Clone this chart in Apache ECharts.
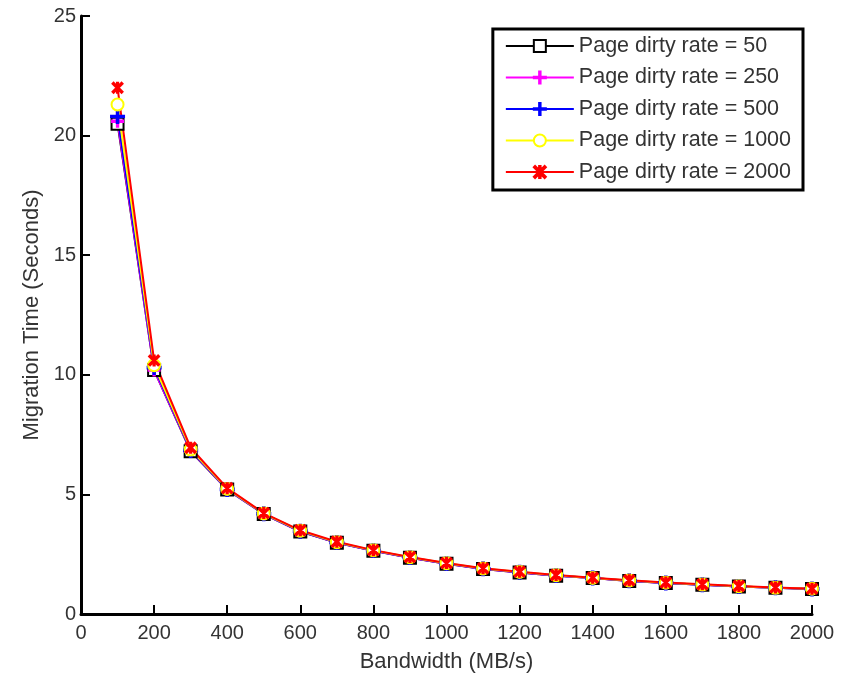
<!DOCTYPE html>
<html>
<head>
<meta charset="utf-8">
<script src="https://cdn.jsdelivr.net/npm/echarts@6/dist/echarts.min.js"></script>
<style>
  html, body { margin: 0; padding: 0; background: #fff; }
  #main { width: 844px; height: 678px; }
</style>
</head>
<body>
<div id="main"></div>
<script>
// bandwidth (MB/s) on the x axis
var bandwidth = [100, 200, 300, 400, 500, 600, 700, 800, 900, 1000,
                 1100, 1200, 1300, 1400, 1500, 1600, 1700, 1800, 1900, 2000];

// migration time (seconds) for each page dirty rate
var rate50   = [20.5, 10.2, 6.8, 5.2, 4.18, 3.45, 2.98, 2.64, 2.35, 2.1, 1.88, 1.74, 1.6, 1.5, 1.38, 1.3, 1.22, 1.15, 1.1, 1.05];
var rate250  = [20.6, 10.2, 6.82, 5.2, 4.18, 3.45, 2.98, 2.64, 2.35, 2.1, 1.88, 1.74, 1.6, 1.5, 1.38, 1.3, 1.22, 1.15, 1.1, 1.05];
var rate500  = [20.8, 10.3, 6.84, 5.21, 4.19, 3.46, 2.99, 2.65, 2.36, 2.11, 1.89, 1.75, 1.61, 1.5, 1.39, 1.3, 1.22, 1.15, 1.1, 1.05];
var rate1000 = [21.3, 10.4, 6.88, 5.23, 4.2, 3.48, 3.0, 2.66, 2.37, 2.12, 1.9, 1.76, 1.62, 1.51, 1.4, 1.31, 1.23, 1.16, 1.1, 1.06];
var rate2000 = [22.0, 10.6, 6.95, 5.26, 4.22, 3.5, 3.02, 2.67, 2.38, 2.13, 1.91, 1.77, 1.63, 1.52, 1.41, 1.32, 1.24, 1.17, 1.11, 1.06];

var seriesNames = ['Page dirty rate = 50', 'Page dirty rate = 250', 'Page dirty rate = 500',
                   'Page dirty rate = 1000', 'Page dirty rate = 2000'];

// 图表
var myChart = echarts.init(document.getElementById('main'));

var plusPath = 'path://M4.4,0H5.6V4.4H10V5.6H5.6V10H4.4V5.6H0V4.4H4.4Z';
var starPath = 'path://M4.4,0H5.6V10H4.4Z M0,1L1,0L10,9L9,10Z M9,0L10,1L1,10L0,9Z';

function pairs(vals) {
  var out = [];
  for (var i = 0; i < bandwidth.length; i++) {
    out.push([bandwidth[i], vals[i]]);
  }
  return out;
}

function makeSeries(name, vals, color, symbol, size) {
  return {
    name: name,
    type: 'line',
    data: pairs(vals),
    symbol: symbol,
    symbolSize: size,
    showAllSymbol: true,
    color: color,
    lineStyle: { color: color, width: 2 },
    itemStyle: { color: color, borderColor: color, borderWidth: 2 },
    emphasis: { disabled: true },
    animation: false
  };
}

var font = 'Liberation Sans, Arial, sans-serif';

var option = {
  backgroundColor: '#fff',
  textStyle: { fontFamily: font },
  grid: { left: 81, right: 32, top: 16, bottom: 61 },
  legend: {
    orient: 'vertical',
    right: 41,
    top: 29,
    data: seriesNames,
    itemWidth: 68,
    itemHeight: 15,
    itemGap: 9.5,
    padding: [6, 12, 7, 12],
    borderColor: '#000',
    borderWidth: 3,
    backgroundColor: '#fff',
    textStyle: { fontSize: 21.5, color: '#333', fontFamily: font }
  },
  xAxis: {
    type: 'value',
    min: 0,
    max: 2000,
    interval: 200,
    name: 'Bandwidth (MB/s)',
    nameLocation: 'middle',
    nameGap: 37,
    nameTextStyle: { fontSize: 22, color: '#333' },
    axisLine: { lineStyle: { color: '#000', width: 3 } },
    axisTick: { inside: true, length: 9, lineStyle: { color: '#000', width: 2 } },
    axisLabel: {
      fontSize: 20, color: '#333', margin: 9,
      formatter: function (v) { return String(v); }
    },
    splitLine: { show: false }
  },
  yAxis: {
    type: 'value',
    min: 0,
    max: 25,
    interval: 5,
    name: 'Migration Time (Seconds)',
    nameLocation: 'middle',
    nameGap: 38,
    nameTextStyle: { fontSize: 22, color: '#333' },
    axisLine: { show: true, lineStyle: { color: '#000', width: 3 } },
    axisTick: { show: true, inside: true, length: 9, lineStyle: { color: '#000', width: 2 } },
    axisLabel: { fontSize: 20, color: '#333', margin: 5 },
    splitLine: { show: false }
  },
  series: [
    makeSeries(seriesNames[0], rate50, '#000000', 'emptyRect', 12),
    makeSeries(seriesNames[1], rate250, '#ff00ff', plusPath, 11),
    makeSeries(seriesNames[2], rate500, '#0000ff', plusPath, 13),
    makeSeries(seriesNames[3], rate1000, '#ffff00', 'emptyCircle', 12),
    makeSeries(seriesNames[4], rate2000, '#ff0000', starPath, 10)
  ]
};

myChart.setOption(option);
</script>
</body>
</html>
